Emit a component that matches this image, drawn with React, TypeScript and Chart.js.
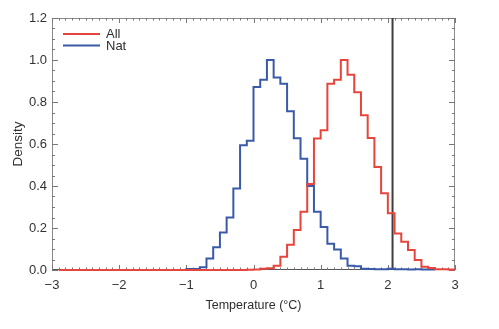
import React, { useEffect, useRef } from "react";
import { Chart, registerables } from "chart.js";

Chart.register(...registerables);

// ---- Data ----
const BIN_WIDTH = 0.1;
const seriesLabels = ["All", "Nat"];

// "All" histogram, bins of 0.1 °C starting at -2.9
const allStart = -2.9;
const allDensity = [
  0, 0, 0, 0, 0, 0, 0, 0, 0, 0, // -2.9 .. -2.0
  0, 0, 0, 0, 0, 0, 0, 0, 0, 0, // -1.9 .. -1.0
  0, 0, 0, 0, 0, 0, 0, 0, 0.001, // -0.9 .. -0.1
  0.002, 0.006, 0.008, 0.02, 0.063, 0.12, 0.19, 0.277, 0.41, 0.626, // 0.0 .. 0.9
  0.665, 0.887, 0.906, 1.0, 0.93, 0.847, 0.737, 0.628, 0.49, 0.365, // 1.0 .. 1.9
  0.27, 0.174, 0.134, 0.095, 0.048, 0.015, 0.01, 0.004, 0.003, 0.002, // 2.0 .. 2.9
];

// "Nat" histogram, bins of 0.1 °C starting at -1.0
const natStart = -1.0;
const natDensity = [
  0.005, 0.005, 0.013, 0.055, 0.108, 0.179, 0.25, 0.388, 0.594, 0.615, // -1.0 .. -0.1
  0.871, 0.906, 1.0, 0.917, 0.887, 0.756, 0.627, 0.53, 0.4, 0.277, // 0.0 .. 0.9
  0.205, 0.125, 0.098, 0.055, 0.02, 0.018, 0.006, 0.005, 0.004, 0.004, // 1.0 .. 1.9
  0.006, 0.003, 0.003, 0.002, 0.003, 0.002, 0.002, // 2.0 .. 2.6
];

const threshold = 2.07;

const xTickValues = [-3, -2, -1, 0, 1, 2, 3];
const yTickValues = [0, 0.2, 0.4, 0.6, 0.8, 1.0, 1.2];
const X_MIN = -3;
const X_MAX = 3;
const Y_MIN = 0;
const Y_MAX = 1.2;
const X_MINOR = 0.1;
const Y_MINOR = 0.05;

const COLORS = {
  All: "#e5453a",
  Nat: "#3a5aa8",
  threshold: "#3d3d3d",
};

const FONT = "'Liberation Sans', Arial, sans-serif";

function histogramOutline(start: number, values: number[]) {
  const pts: { x: number; y: number }[] = [];
  const edge = (i: number) => Math.round((start + i * BIN_WIDTH) * 1000) / 1000;
  pts.push({ x: edge(0), y: 0 });
  values.forEach((v, i) => {
    pts.push({ x: edge(i), y: v });
    pts.push({ x: edge(i + 1), y: v });
  });
  pts.push({ x: edge(values.length), y: 0 });
  return pts;
}

const framePlugin = {
  id: "frameTicks",
  beforeDatasetsDraw(chart: any) {
    const { ctx, chartArea } = chart;
    const { left, right, top, bottom } = chartArea;
    const xs = chart.scales.x;
    const ys = chart.scales.y;
    ctx.save();
    ctx.lineWidth = 1;
    // frame
    ctx.strokeStyle = "#8a8a8a";
    ctx.beginPath();
    ctx.moveTo(left + 0.5, bottom);
    ctx.lineTo(left + 0.5, top + 0.5);
    ctx.lineTo(right - 0.5, top + 0.5);
    ctx.lineTo(right - 0.5, bottom);
    ctx.stroke();
    ctx.strokeStyle = "#555";
    ctx.beginPath();
    ctx.moveTo(left, bottom - 0.5);
    ctx.lineTo(right, bottom - 0.5);
    ctx.stroke();

    // x ticks (inward, top and bottom)
    ctx.strokeStyle = "#777";
    const nx = Math.round((X_MAX - X_MIN) / X_MINOR);
    for (let i = 0; i <= nx; i++) {
      const v = X_MIN + i * X_MINOR;
      const px = Math.round(xs.getPixelForValue(v)) + 0.5;
      const major = i % 10 === 0;
      const len = major ? 5 : 2.5;
      ctx.beginPath();
      ctx.moveTo(px, bottom);
      ctx.lineTo(px, bottom - len);
      ctx.moveTo(px, top);
      ctx.lineTo(px, top + len);
      ctx.stroke();
    }
    // y ticks (inward, left and right)
    const ny = Math.round((Y_MAX - Y_MIN) / Y_MINOR);
    for (let j = 0; j <= ny; j++) {
      const v = Y_MIN + j * Y_MINOR;
      const py = Math.round(ys.getPixelForValue(v)) + 0.5;
      const major = j % 4 === 0;
      const len = major ? 6 : 3;
      ctx.beginPath();
      ctx.moveTo(left, py);
      ctx.lineTo(left + len, py);
      ctx.moveTo(right, py);
      ctx.lineTo(right - len, py);
      ctx.stroke();
    }
    ctx.restore();
  },
};

const legendPlugin = {
  id: "insideLegend",
  afterDatasetsDraw(chart: any) {
    const { ctx } = chart;
    const x0 = 63;
    const x1 = 100;
    const y0 = 34;
    const gap = 11.5;
    ctx.save();
    ctx.font = `13px ${FONT}`;
    ctx.textBaseline = "middle";
    ctx.textAlign = "left";
    let k = 0;
    chart.data.datasets.forEach((ds: any) => {
      if (!seriesLabels.includes(ds.label)) return;
      const y = y0 + k * gap;
      ctx.strokeStyle = ds.borderColor;
      ctx.lineWidth = 2;
      ctx.beginPath();
      ctx.moveTo(x0, y);
      ctx.lineTo(x1, y);
      ctx.stroke();
      ctx.fillStyle = "#2e2e2e";
      ctx.fillText(ds.label, 106, y + 0.5);
      k++;
    });
    ctx.restore();
  },
};

export default function App() {
  const canvasRef = useRef<HTMLCanvasElement | null>(null);

  useEffect(() => {
    if (!canvasRef.current) return;
    const chart = new Chart(canvasRef.current, {
      type: "line",
      data: {
        datasets: [
          {
            label: seriesLabels[0],
            data: histogramOutline(allStart, allDensity),
            borderColor: COLORS.All,
            borderWidth: 2,
            pointRadius: 0,
            fill: false,
            tension: 0,
            clip: 4,
          },
          {
            label: seriesLabels[1],
            data: histogramOutline(natStart, natDensity),
            borderColor: COLORS.Nat,
            borderWidth: 2,
            pointRadius: 0,
            fill: false,
            tension: 0,
            clip: 4,
          },
          {
            label: "threshold",
            data: [
              { x: threshold, y: Y_MIN },
              { x: threshold, y: Y_MAX },
            ],
            borderColor: COLORS.threshold,
            borderWidth: 2,
            pointRadius: 0,
            fill: false,
          },
        ],
      },
      options: {
        responsive: false,
        animation: false,
        devicePixelRatio: 1,
        parsing: false as any,
        layout: { padding: { left: 0, right: 44, top: 18, bottom: 0 } },
        plugins: {
          legend: { display: false },
          tooltip: { enabled: false },
        },
        scales: {
          x: {
            type: "linear",
            min: X_MIN,
            max: X_MAX,
            afterBuildTicks: (s: any) => {
              s.ticks = xTickValues.map((v) => ({ value: v }));
            },
            afterFit: (s: any) => {
              s.height = 59;
            },
            ticks: {
              autoSkip: false,
              maxRotation: 0,
              padding: 8,
              color: "#333",
              font: { family: FONT, size: 13 },
              callback: (v: any) => (v < 0 ? "\u2212" + Math.abs(v) : String(v)),
            },
            grid: { display: false, drawTicks: false },
            border: { display: false },
            title: {
              display: true,
              text: "Temperature (°C)",
              color: "#2e2e2e",
              font: { family: FONT, size: 12.5 },
              padding: { top: 0, bottom: 16 },
            },
          },
          y: {
            type: "linear",
            min: Y_MIN,
            max: Y_MAX,
            afterBuildTicks: (s: any) => {
              s.ticks = yTickValues.map((v) => ({ value: v }));
            },
            afterFit: (s: any) => {
              s.width = 52;
            },
            ticks: {
              padding: 5,
              color: "#333",
              font: { family: FONT, size: 13 },
              callback: (v: any) => Number(v).toFixed(1),
            },
            grid: { display: false, drawTicks: false },
            border: { display: false },
            title: {
              display: true,
              text: "Density",
              color: "#2e2e2e",
              font: { family: FONT, size: 13.5 },
              padding: { top: 10, bottom: 0 },
            },
          },
        },
      },
      plugins: [framePlugin, legendPlugin],
    });
    return () => chart.destroy();
  }, []);

  return (
    <div
      style={{
        position: "fixed",
        left: 0,
        top: 0,
        width: 499,
        height: 329,
        background: "#fff",
      }}
    >
      <canvas ref={canvasRef} width={499} height={329} style={{ width: 499, height: 329, display: "block" }} />
    </div>
  );
}
